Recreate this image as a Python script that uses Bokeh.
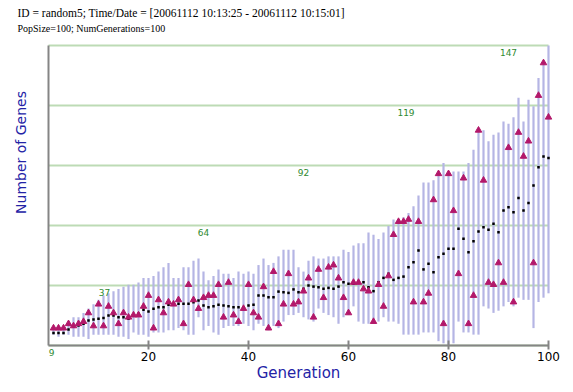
import math
from bokeh.plotting import figure
from bokeh.models import Range1d, FixedTicker, ColumnDataSource, Label
from bokeh.embed import file_html
from bokeh.resources import INLINE
from bokeh.core.properties import value

# ---------------- data ----------------
generations = list(range(1, 101))

best = [17, 17, 17, 19, 18, 19, 20, 24, 18, 28,
        18, 27, 24, 19, 24, 22, 23, 23, 27, 32,
        17, 30, 24, 29, 28, 30, 19, 37, 30, 26,
        31, 32, 32, 37, 22, 38, 23, 20, 26, 37,
        24, 22, 36, 17, 43, 19, 28, 42, 28, 29,
        34, 40, 22, 44, 31, 45, 46, 40, 31, 24,
        38, 38, 35, 34, 20, 37, 27, 41, 60, 66,
        66, 67, 29, 66, 29, 33, 76, 88, 19, 88,
        71, 42, 86, 19, 32, 108, 85, 38, 37, 47,
        38, 100, 29, 107, 96, 103, 47, 124, 139, 114]

mean = [14.8, 14.8, 14.8, 16.4, 17.9, 18.2, 19.0, 20.5, 21.0, 21.3,
        21.6, 22.8, 22.8, 22.0, 22.0, 21.3, 22.8, 23.6, 25.4, 24.6,
        25.9, 26.6, 26.6, 27.8, 28.2, 28.2, 28.2, 28.2, 28.9, 29.7,
        27.4, 26.6, 27.1, 27.7, 27.4, 27.1, 26.6, 26.6, 26.6, 27.4,
        27.7, 32.0, 32.0, 31.2, 31.2, 33.8, 33.5, 33.2, 34.8, 33.5,
        35.1, 36.6, 36.1, 35.8, 35.1, 35.5, 35.1, 36.1, 38.1, 37.4,
        37.4, 38.1, 38.1, 35.8, 34.0, 38.1, 40.1, 42.0, 39.2, 40.1,
        40.7, 45.0, 47.3, 52.7, 44.0, 46.6, 42.7, 49.6, 51.2, 53.5,
        53.5, 62.7, 58.1, 51.9, 57.0, 61.4, 63.4, 62.2, 65.0, 61.1,
        71.1, 72.6, 70.3, 76.8, 71.1, 74.5, 82.6, 91.0, 95.9, 95.3]

high = [17, 18, 17, 20, 22, 22, 24, 26, 28, 30,
        32, 33, 34, 35, 36, 37, 37, 38, 40, 40,
        41, 43, 45, 47, 40, 40, 45, 45, 48, 49,
        43, 39, 41, 44, 42, 42, 40, 43, 42, 43,
        42, 46, 49, 46, 47, 50, 53, 53, 53, 45,
        43, 48, 50, 49, 49, 50, 50, 50, 53, 52,
        55, 56, 56, 61, 60, 58, 61, 64, 67, 67,
        68, 70, 73, 78, 84, 84, 85, 89, 93, 89,
        89, 89, 89, 93, 99, 109, 108, 103, 106, 107,
        112, 111, 114, 123, 112, 122, 119, 132, 140, 147]

low = [14, 13, 14, 14, 13, 13, 13, 12, 14, 14,
       14, 14, 14, 13, 13, 12, 15, 14, 14, 13,
       15, 15, 15, 16, 16, 17, 16, 14, 14, 22,
       16, 18, 15, 14, 17, 18, 18, 18, 19, 18,
       16, 19, 18, 16, 18, 17, 20, 23, 23, 24,
       22, 21, 20, 26, 24, 23, 22, 19, 22, 23,
       27, 20, 19, 19, 19, 20, 22, 20, 20, 19,
       14, 14, 14, 14, 15, 15, 15, 11, 10, 9,
       10, 20, 15, 15, 14, 14, 27, 26, 24, 25,
       27, 29, 27, 31, 30, 30, 17, 29, 31, 33]

grid_values = [9, 36.6, 64.2, 91.8, 119.4, 147]
grid_labels = ["9", "37", "64", "92", "119", "147"]
grid_label_gen = [0.6, 11.2, 31, 51, 71.5, 92]
x_ticks = [20, 40, 60, 80, 100]

title_text = "ID = random5; Time/Date = [20061112 10:13:25 - 20061112 10:15:01]"
subtitle_text = "PopSize=100; NumGenerations=100"
x_label = "Generation"
y_label = "Number of Genes"

# ---------------- layout (pixels) ----------------
W, H = 565, 384
PL, PR, PT, PB = 48, 548, 45, 345          # where the data area sits
x_lo, x_hi = 0, 100
y_lo, y_hi = min(low), max(high)
sx = (PR - PL) / (x_hi - x_lo)
sy = (PB - PT) / (y_hi - y_lo)
# the frame covers the whole canvas so that nothing is clipped
xr = Range1d(x_lo - PL / sx, x_hi + (W - PR) / sx)
yr = Range1d(y_lo - (H - PB) / sy, y_hi + PT / sy)

p = figure(width=W, height=H, output_backend="svg", toolbar_location=None,
           title=None, x_range=xr, y_range=yr,
           min_border_left=0, min_border_right=0, min_border_top=0,
           min_border_bottom=0)
p.outline_line_color = None
p.background_fill_color = "white"
p.border_fill_color = "white"

# x axis at the bottom of the data
p.xaxis.fixed_location = y_lo
p.xaxis.bounds = (x_lo, x_hi)
p.xaxis.ticker = FixedTicker(ticks=x_ticks)
p.xaxis.axis_line_color = "#858585"
p.xaxis.axis_line_width = 2
p.xaxis.major_tick_line_color = "#858585"
p.xaxis.major_tick_line_width = 2
p.xaxis.major_tick_in = 5
p.xaxis.major_tick_out = 4
p.xaxis.minor_tick_line_color = None
p.xaxis.major_label_standoff = 2
p.xaxis.major_label_text_font = "DejaVu Sans"
p.xaxis.major_label_text_font_size = "12px"
p.xaxis.major_label_text_color = "black"
p.xaxis.axis_label = x_label
p.xaxis.axis_label_standoff = 0
p.xaxis.axis_label_text_font = "DejaVu Sans"
p.xaxis.axis_label_text_font_size = "15px"
p.xaxis.axis_label_text_font_style = "normal"
p.xaxis.axis_label_text_color = "#2323a6"

# y axis: line only, values shown as labels on the grid lines
p.yaxis.fixed_location = x_lo
p.yaxis.bounds = (y_lo, y_hi)
p.yaxis.ticker = FixedTicker(ticks=[])
p.yaxis.axis_line_color = "#858585"
p.yaxis.axis_line_width = 2
p.yaxis.major_tick_line_color = None
p.yaxis.minor_tick_line_color = None

p.xgrid.visible = False
p.ygrid.ticker = FixedTicker(ticks=grid_values)
p.ygrid.grid_line_color = "#bddbb5"
p.ygrid.grid_line_width = 2
try:
    p.ygrid.cross_bounds = (x_lo, x_hi)
except Exception:
    pass

src = ColumnDataSource(dict(gen=generations, best=best, mean=mean, high=high, low=low))

p.segment(x0="gen", y0="low", x1="gen", y1="high", source=src,
          line_color="#b5b5e4", line_width=2.2)
p.scatter(x="gen", y="mean", source=src, marker="square", size=2.5,
          fill_color="black", line_color=None)
p.scatter(x="gen", y="best", source=src, marker="triangle", size=6.5,
          fill_color="#b3186a", line_color="#b3186a")

gsrc = ColumnDataSource(dict(x=grid_label_gen, y=grid_values, t=grid_labels))
p.text(x="x", y="y", text="t", source=gsrc, text_color="#2f8a2f",
       text_font=value("DejaVu Sans"), text_font_size=value("9px"),
       text_align="center", text_baseline="top", y_offset=3)

# titles and the vertical axis title (screen units from the bottom-left)
p.add_layout(Label(x=17, y=H - 12, x_units="screen", y_units="screen",
                   text=title_text, text_font="Liberation Serif",
                   text_font_size="11.5px", text_color="black",
                   text_baseline="middle", text_align="left"))
p.add_layout(Label(x=17, y=H - 28, x_units="screen", y_units="screen",
                   text=subtitle_text, text_font="Liberation Serif",
                   text_font_size="10px", text_color="black",
                   text_baseline="middle", text_align="left"))
p.add_layout(Label(x=20, y=H - 152, x_units="screen", y_units="screen",
                   text=y_label, text_font="DejaVu Sans",
                   text_font_size="14px", text_color="#2323a6",
                   angle=math.pi / 2,
                   text_baseline="middle", text_align="center"))

open("out.html", "w").write(file_html(p, INLINE))
